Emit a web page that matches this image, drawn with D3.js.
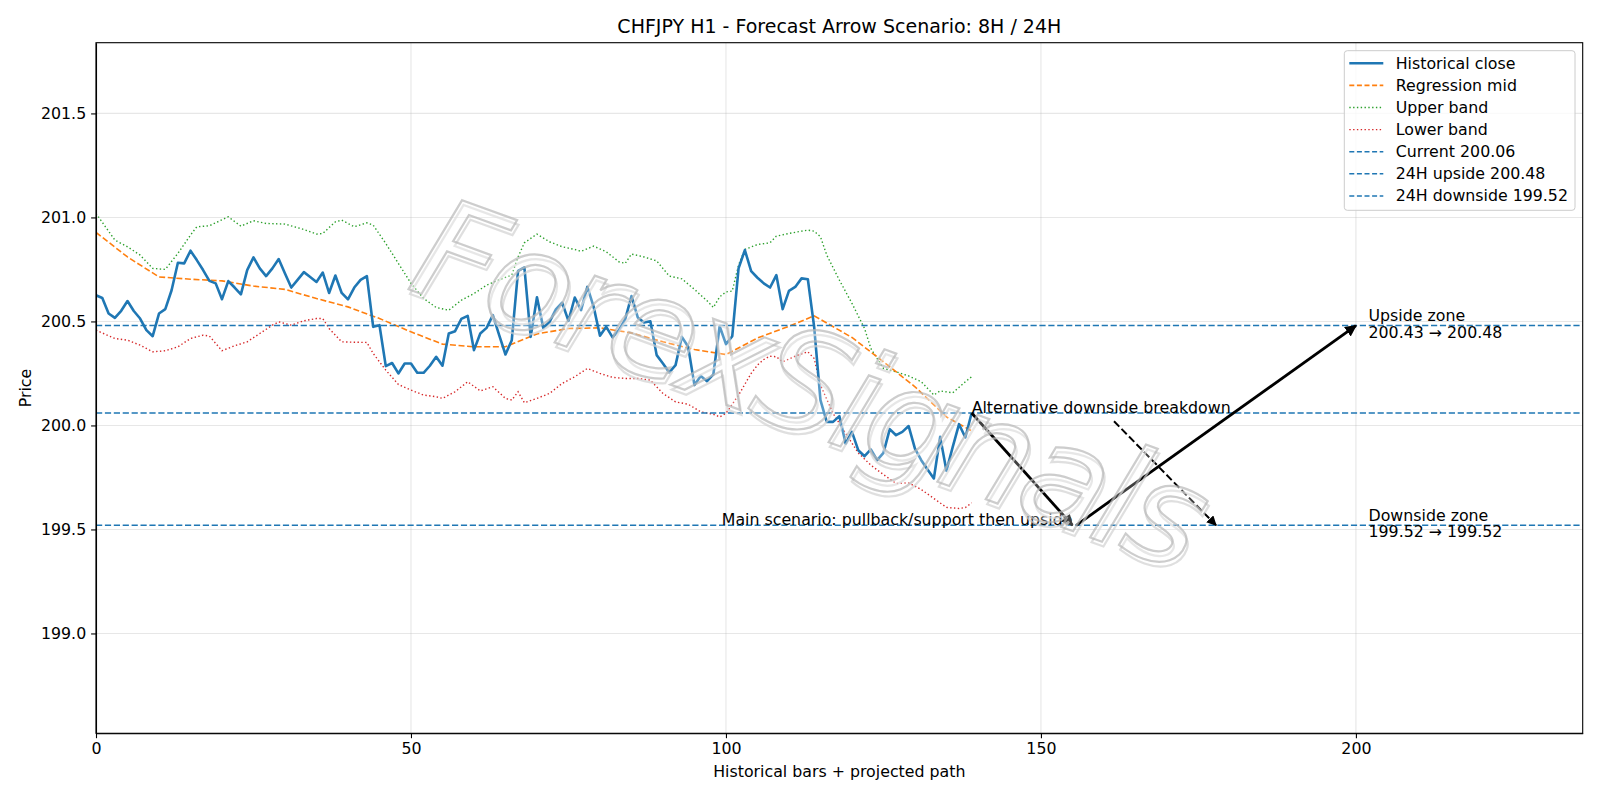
<!DOCTYPE html>
<html lang="en">
  <head>
    <meta charset="utf-8">
    <title>CHFJPY H1 forecast</title>
    <style>
    body { margin: 0; background: #fff; }
    svg text { font-family: "DejaVu Sans", sans-serif; fill: #000; }
    .axis path, .axis line { stroke: #000; stroke-width: 1.1; }
    .axis text { font-size: 15.8px; font-family: "DejaVu Sans", sans-serif; }
    .grid line { stroke: #b0b0b0; stroke-opacity: 0.3; stroke-width: 1.1; }
    </style>
  </head>
  <body>
    <svg width="1600" height="800" id="chart"></svg>

    <script src="https://cdn.jsdelivr.net/npm/d3@7/dist/d3.min.js"></script>
    <script>

    // --- data ---
    var closeVals = [
      200.626, 200.613, 200.538, 200.517, 200.551, 200.598, 200.550, 200.514, 200.458, 200.429,
      200.538, 200.559, 200.650, 200.782, 200.779, 200.840, 200.795, 200.747, 200.695, 200.683,
      200.607, 200.694, 200.663, 200.630, 200.747, 200.808, 200.755, 200.718, 200.755, 200.800,
      200.730, 200.663, 200.700, 200.737, 200.714, 200.690, 200.735, 200.637, 200.721, 200.637,
      200.606, 200.663, 200.700, 200.718, 200.474, 200.482, 200.285, 200.300, 200.250, 200.298,
      200.298, 200.253, 200.253, 200.287, 200.330, 200.287, 200.442, 200.453, 200.512, 200.527,
      200.362, 200.442, 200.469, 200.530, 200.434, 200.341, 200.410, 200.743, 200.760, 200.426,
      200.616, 200.469, 200.498, 200.558, 200.590, 200.503, 200.615, 200.554, 200.666, 200.570,
      200.431, 200.474, 200.423, 200.458, 200.510, 200.622, 200.519, 200.495, 200.501, 200.338,
      200.298, 200.255, 200.290, 200.426, 200.378, 200.194, 200.238, 200.213, 200.245, 200.477,
      200.391, 200.429, 200.755, 200.843, 200.742, 200.710, 200.683, 200.663, 200.723, 200.559,
      200.647, 200.666, 200.707, 200.703, 200.474, 200.122, 200.017, 200.017, 200.045, 199.913,
      199.969, 199.881, 199.852, 199.885, 199.833, 199.868, 199.982, 199.953, 199.969, 199.997,
      199.889, 199.833, 199.788, 199.745, 199.945, 199.782, 199.897, 200.006, 199.942, 200.060
    ];

    var midX = [0, 5, 10, 15, 20, 25, 30, 35, 40, 45, 50, 55, 60, 65, 70, 75, 80, 85, 90, 95,
                100, 105, 110, 114, 120, 125, 130, 135, 139];
    var midVals = [200.928, 200.810, 200.714, 200.703, 200.695, 200.670, 200.654, 200.610, 200.570, 200.514,
                   200.450, 200.391, 200.378, 200.378, 200.440, 200.466, 200.469, 200.445, 200.402, 200.365,
                   200.341, 200.420, 200.477, 200.527, 200.423, 200.306, 200.186, 200.041, 199.974];

    var upperX = [0, 3, 5, 7, 9, 11, 13, 15, 16, 18, 21, 23, 25, 27, 30, 33, 35, 36, 38, 39,
                  41, 43, 44, 46, 48, 50, 52, 54, 56, 58, 60, 62, 64, 66, 67, 68, 70, 72, 74, 76,
                  77, 79, 81, 83, 84, 85, 87, 89, 91, 93, 95, 97, 98, 99, 100, 101, 102, 103, 105, 107,
                  108, 110, 112, 113, 114, 115, 116, 118, 120, 122, 123, 125, 127, 129, 131, 133, 134, 136, 138, 139];
    var upperVals = [201.019, 200.891, 200.859, 200.819, 200.755, 200.750, 200.827, 200.915, 200.955, 200.960,
                     201.003, 200.958, 200.984, 200.971, 200.968, 200.942, 200.920, 200.923, 200.979, 200.987,
                     200.955, 200.974, 200.963, 200.875, 200.779, 200.683, 200.611, 200.567, 200.554, 200.602,
                     200.634, 200.674, 200.700, 200.723, 200.810, 200.878, 200.920, 200.883, 200.859, 200.846,
                     200.837, 200.862, 200.835, 200.787, 200.779, 200.824, 200.810, 200.791, 200.718, 200.705,
                     200.654, 200.599, 200.567, 200.618, 200.642, 200.646, 200.771, 200.846, 200.870, 200.878,
                     200.910, 200.923, 200.934, 200.939, 200.934, 200.907, 200.819, 200.699, 200.587, 200.466,
                     200.370, 200.274, 200.258, 200.238, 200.210, 200.146, 200.166, 200.157, 200.210, 200.234];

    var lowerX = [0, 3, 5, 7, 9, 11, 13, 15, 17, 18, 20, 22, 24, 26, 28, 29, 31, 33, 35, 36,
                  37, 39, 41, 43, 44, 46, 48, 50, 52, 54, 55, 57, 59, 61, 63, 65, 66, 67, 68, 70,
                  72, 74, 76, 78, 80, 82, 84, 86, 88, 90, 92, 94, 96, 98, 99, 100, 102, 104, 105, 106,
                  107, 108, 109, 111, 113, 114, 115, 117, 119, 121, 123, 125, 127, 129, 131, 133, 135, 137, 138, 139];
    var lowerVals = [200.458, 200.418, 200.410, 200.386, 200.354, 200.359, 200.378, 200.418, 200.434, 200.430,
                     200.359, 200.383, 200.402, 200.442, 200.482, 200.498, 200.482, 200.503, 200.514, 200.514,
                     200.466, 200.402, 200.400, 200.399, 200.346, 200.266, 200.197, 200.170, 200.146, 200.138,
                     200.130, 200.162, 200.210, 200.166, 200.186, 200.130, 200.122, 200.162, 200.109, 200.130,
                     200.154, 200.202, 200.234, 200.274, 200.250, 200.231, 200.226, 200.226, 200.218, 200.154,
                     200.113, 200.102, 200.065, 200.054, 200.041, 200.058, 200.146, 200.250, 200.290, 200.317,
                     200.333, 200.330, 200.306, 200.333, 200.354, 200.322, 200.194, 200.058, 199.962, 199.868,
                     199.809, 199.764, 199.721, 199.724, 199.692, 199.649, 199.606, 199.601, 199.605, 199.628];

    var currentLevel = 200.06,
        upsideLevel = 200.48,
        downsideLevel = 199.52;

    // scenario arrows: [x, price] pairs
    var mainLeg1 = [[139, 200.06], [155, 199.52]],
        mainLeg2 = [[155.6, 199.52], [200, 200.48]],
        altLeg = [[161.6, 200.02], [177.8, 199.52]];

    var xTicks = [0, 50, 100, 150, 200],
        yTicks = [199.0, 199.5, 200.0, 200.5, 201.0, 201.5];

    var legendItems = [
      {label: "Historical close", color: "#1f77b4", dash: null, width: 2.6},
      {label: "Regression mid", color: "#ff7f0e", dash: "5,2.6", width: 1.6},
      {label: "Upper band", color: "#2ca02c", dash: "1.4,2.4", width: 1.4},
      {label: "Lower band", color: "#d62728", dash: "1.4,2.4", width: 1.4},
      {label: "Current 200.06", color: "#1f77b4", dash: "5,2.6", width: 1.5},
      {label: "24H upside 200.48", color: "#1f77b4", dash: "5,2.6", width: 1.5},
      {label: "24H downside 199.52", color: "#1f77b4", dash: "5,2.6", width: 1.5}
    ];

    // --- layout ---
    var svg = d3.select("#chart"),
        plotL = 96, plotR = 1582.7, plotT = 42.7, plotB = 733.3,
        fs = "15.8px";

    var x = d3.scaleLinear().domain([0, 236]).range([plotL, plotR]),
        y = d3.scaleLinear().domain([198.52, 201.84]).range([plotB, plotT]);

    var defs = svg.append("defs");
    defs.append("clipPath").attr("id", "plotclip")
      .append("rect").attr("x", plotL).attr("y", plotT)
      .attr("width", plotR - plotL).attr("height", plotB - plotT);

    defs.append("marker")
        .attr("id", "head")
        .attr("viewBox", "0 0 10 10")
        .attr("refX", 9).attr("refY", 5)
        .attr("markerWidth", 4.2).attr("markerHeight", 4.2)
        .attr("orient", "auto")
      .append("path").attr("d", "M0,0 L10,5 L0,10 Z").attr("fill", "#000");
    defs.append("marker")
        .attr("id", "headSmall")
        .attr("viewBox", "0 0 10 10")
        .attr("refX", 9).attr("refY", 5)
        .attr("markerWidth", 5).attr("markerHeight", 5)
        .attr("orient", "auto")
      .append("path").attr("d", "M0,0 L10,5 L0,10 Z").attr("fill", "#000");

    // grid
    var grid = svg.append("g").attr("class", "grid");
    grid.selectAll(".gx").data(xTicks).enter().append("line")
      .attr("x1", function(d) { return x(d); }).attr("x2", function(d) { return x(d); })
      .attr("y1", plotT).attr("y2", plotB);
    grid.selectAll(".gy").data(yTicks).enter().append("line")
      .attr("y1", function(d) { return y(d); }).attr("y2", function(d) { return y(d); })
      .attr("x1", plotL).attr("x2", plotR);

    var plot = svg.append("g").attr("clip-path", "url(#plotclip)");

    var line = d3.line()
      .x(function(d) { return x(d[0]); })
      .y(function(d) { return y(d[1]); });

    function pairs(xs, vs) { return xs.map(function(v, i) { return [v, vs[i]]; }); }

    plot.append("path")
      .datum(pairs(upperX, upperVals))
      .attr("d", line).attr("fill", "none")
      .attr("stroke", "#2ca02c").attr("stroke-width", 1.4).attr("stroke-dasharray", "1.4,2.4");

    plot.append("path")
      .datum(pairs(lowerX, lowerVals))
      .attr("d", line).attr("fill", "none")
      .attr("stroke", "#d62728").attr("stroke-width", 1.4).attr("stroke-dasharray", "1.4,2.4");

    plot.append("path")
      .datum(pairs(midX, midVals))
      .attr("d", line).attr("fill", "none")
      .attr("stroke", "#ff7f0e").attr("stroke-width", 1.6).attr("stroke-dasharray", "6,2.6");

    plot.append("path")
      .datum(closeVals.map(function(v, i) { return [i, v]; }))
      .attr("d", line).attr("fill", "none")
      .attr("stroke", "#1f77b4").attr("stroke-width", 2.6).attr("stroke-linejoin", "round");

    [currentLevel, upsideLevel, downsideLevel].forEach(function(lv) {
      plot.append("line")
        .attr("x1", plotL).attr("x2", plotR)
        .attr("y1", y(lv)).attr("y2", y(lv))
        .attr("stroke", "#1f77b4").attr("stroke-width", 1.5)
        .attr("stroke-dasharray", "6.2,2.7");
    });

    // arrows
    [mainLeg1, mainLeg2].forEach(function(seg) {
      plot.append("path").datum(seg).attr("d", line)
        .attr("stroke", "#000").attr("stroke-width", 2.8).attr("fill", "none")
        .attr("marker-end", "url(#head)");
    });
    plot.append("path").datum(altLeg).attr("d", line)
      .attr("stroke", "#000").attr("stroke-width", 2).attr("fill", "none")
      .attr("stroke-dasharray", "7.5,3.2")
      .attr("marker-end", "url(#headSmall)");

    // annotations
    svg.append("text").attr("x", x(139)).attr("y", y(currentLevel))
      .attr("font-size", fs).text("Alternative downside breakdown");
    svg.append("text").attr("x", x(155)).attr("y", y(downsideLevel))
      .attr("text-anchor", "end").attr("font-size", fs)
      .text("Main scenario: pullback/support then upside");

    function zoneLabel(lv, l1, l2) {
      var t = svg.append("text").attr("font-size", fs);
      t.append("tspan").attr("x", x(202)).attr("y", y(lv) - 4.5).text(l1);
      t.append("tspan").attr("x", x(202)).attr("y", y(lv) + 12).text(l2);
    }
    zoneLabel(upsideLevel, "Upside zone", "200.43 \u2192 200.48");
    zoneLabel(downsideLevel, "Downside zone", "199.52 \u2192 199.52");

    // watermark
    var wm = svg.append("g")
      .attr("transform", "translate(795,430) rotate(20)");
    wm.append("text")
      .attr("x", 3).attr("y", 4)
      .attr("text-anchor", "middle")
      .attr("font-size", "140px").attr("font-style", "italic").attr("font-weight", 200)
      .attr("textLength", 830).attr("lengthAdjust", "spacing")
      .style("fill", "none").style("stroke", "#d2d2d2").style("stroke-width", 2.2)
      .style("stroke-opacity", 0.7)
      .text("ForexSignals");
    wm.append("text")
      .attr("text-anchor", "middle")
      .attr("font-size", "140px").attr("font-style", "italic").attr("font-weight", 200)
      .attr("textLength", 830).attr("lengthAdjust", "spacing")
      .style("fill", "#fff").style("fill-opacity", 0.25)
      .style("stroke", "#b8b8b8").style("stroke-width", 2.2).style("stroke-opacity", 0.7)
      .text("ForexSignals");

    // axes
    svg.append("g").attr("class", "axis")
      .attr("transform", "translate(0," + plotB + ")")
      .call(d3.axisBottom(x).tickValues(xTicks).tickSize(4.9).tickPadding(4.9).tickSizeOuter(0));
    svg.append("g").attr("class", "axis")
      .attr("transform", "translate(" + plotL + ",0)")
      .call(d3.axisLeft(y).tickValues(yTicks).tickFormat(d3.format(".1f")).tickSize(4.9).tickPadding(4.9).tickSizeOuter(0));

    svg.append("rect")
      .attr("x", plotL).attr("y", plotT)
      .attr("width", plotR - plotL).attr("height", plotB - plotT)
      .attr("fill", "none").attr("stroke", "#000").attr("stroke-width", 1.1);

    svg.append("text").attr("x", (plotL + plotR) / 2).attr("y", 33)
      .attr("text-anchor", "middle").attr("font-size", "19px")
      .text("CHFJPY H1 - Forecast Arrow Scenario: 8H / 24H");
    svg.append("text").attr("x", (plotL + plotR) / 2).attr("y", 777)
      .attr("text-anchor", "middle").attr("font-size", fs)
      .text("Historical bars + projected path");
    svg.append("text")
      .attr("transform", "translate(31," + ((plotT + plotB) / 2) + ") rotate(-90)")
      .attr("text-anchor", "middle").attr("font-size", fs)
      .text("Price");

    // legend
    var lg = svg.append("g");
    lg.append("rect")
      .attr("x", 1344.3).attr("y", 50.7).attr("width", 230.7).attr("height", 159.6)
      .attr("rx", 3).attr("fill", "#fff").attr("fill-opacity", 0.8)
      .attr("stroke", "#cccccc").attr("stroke-width", 1);
    legendItems.forEach(function(d, i) {
      var cy = 63.3 + i * 22.1;
      lg.append("line")
        .attr("x1", 1349.3).attr("x2", 1383.3).attr("y1", cy).attr("y2", cy)
        .attr("stroke", d.color).attr("stroke-width", d.width)
        .attr("stroke-dasharray", d.dash);
      lg.append("text").attr("x", 1395.7).attr("y", cy + 5.5)
        .attr("font-size", fs).text(d.label);
    });

    </script>
  </body>
</html>
